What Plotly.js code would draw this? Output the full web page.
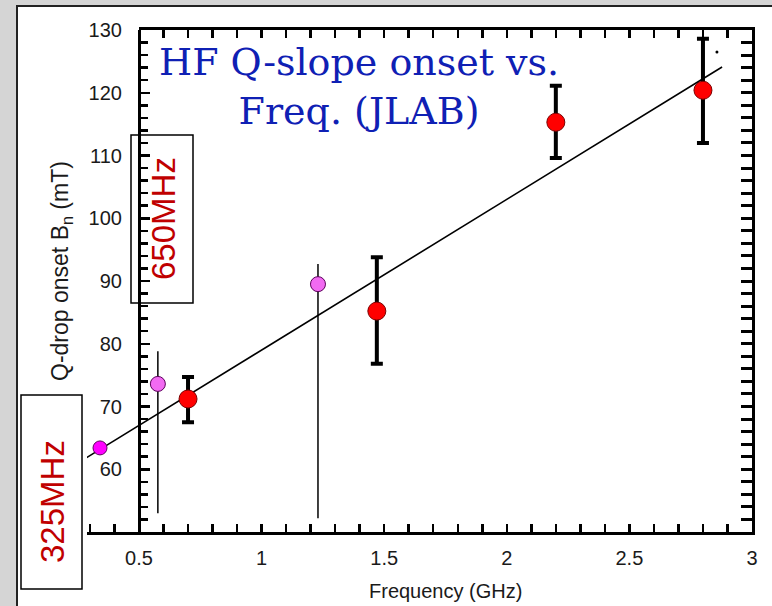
<!DOCTYPE html>
<html>
<head>
<meta charset="utf-8">
<script src="https://cdn.plot.ly/plotly-3.0.1.min.js"></script>
<style>html,body{margin:0;padding:0;background:#d5d5d5;}#chart{width:772px;height:606px;}</style>
</head>
<body>
<div id="chart"></div>
<script>
// ---- data ----
var redFreq   = [0.70, 1.47, 2.20, 2.80];
var redOnset  = [71.2, 85.2, 115.3, 120.4];
var redTop    = [74.7, 93.8, 121.1, 128.6];
var redBottom = [67.5, 76.8, 109.6, 112.0];

var violetFreq   = [0.577, 1.23];
var violetOnset  = [73.6, 89.5];
var violetTop    = [78.8, 92.7];
var violetBottom = [53.0, 52.2];

var magentaFreq  = [0.341];
var magentaOnset = [63.4];

var fitFreq  = [0.272, 2.878];
var fitOnset = [61.5, 124.1];

var strayFreq = [2.857];
var strayOnset = [126.5];

var xTickVals = [0.5, 1, 1.5, 2, 2.5, 3];
var xTickText = ['0.5', '1', '1.5', '2', '2.5', '3'];
var yTickVals = [60, 70, 80, 90, 100, 110, 120, 130];

var xRange = [0.288, 3.0];
var yRange = [50, 130];
var yAxisAt = 0.5;

// ---- layout helpers ----
var W = 772, H = 606, mL = 87, mR = 20, mT = 30, mB = 74;
var pw = W - mL - mR, ph = H - mT - mB;
function px(x) { return (x - mL) / pw; }
function py(y) { return (H - mB - y) / ph; }
var yPos = (yAxisAt - xRange[0]) / (xRange[1] - xRange[0]);

function diff(a, b) { return a.map(function (v, i) { return v - b[i]; }); }

var axisFont = {family: 'Liberation Sans, Arial, sans-serif', size: 20, color: '#1a1a1a'};

var traces = [
  {x: fitFreq, y: fitOnset, mode: 'lines', line: {color: '#000', width: 1.6}, hoverinfo: 'skip', showlegend: false},
  {x: violetFreq, y: violetOnset, mode: 'markers', showlegend: false,
   marker: {size: 15, color: '#f26af2', line: {color: '#5a005a', width: 1}},
   error_y: {type: 'data', symmetric: false, array: diff(violetTop, violetOnset), arrayminus: diff(violetOnset, violetBottom),
             color: '#000', thickness: 1.5, width: 0}},
  {x: redFreq, y: redOnset, mode: 'markers', showlegend: false,
   marker: {size: 18, color: '#ff0000', line: {color: '#7a0000', width: 1}},
   error_y: {type: 'data', symmetric: false, array: diff(redTop, redOnset), arrayminus: diff(redOnset, redBottom),
             color: '#000', thickness: 4, width: 6}},
  {x: magentaFreq, y: magentaOnset, mode: 'markers', showlegend: false,
   marker: {size: 14, color: '#ff00ff', line: {color: '#600060', width: 1}}},
  {x: strayFreq, y: strayOnset, mode: 'markers', showlegend: false, marker: {size: 3, color: '#000'}},
  // helpers so the frame axes are drawn
  {x: [xRange[1]], y: [yRange[0]], xaxis: 'x2', yaxis: 'y', mode: 'markers', marker: {opacity: 0}, hoverinfo: 'skip', showlegend: false},
  {x: [xRange[1]], y: [yRange[0]], xaxis: 'x', yaxis: 'y2', mode: 'markers', marker: {opacity: 0}, hoverinfo: 'skip', showlegend: false}
];

var layout = {
  width: W, height: H,
  margin: {l: mL, r: mR, t: mT, b: mB, pad: 0},
  paper_bgcolor: '#d5d5d5',
  plot_bgcolor: 'rgba(0,0,0,0)',
  showlegend: false,
  xaxis: {
    domain: [0, 1], range: xRange, anchor: 'y', side: 'bottom',
    showline: true, linewidth: 3, linecolor: '#000', zeroline: false, showgrid: false,
    tickmode: 'array', tickvals: xTickVals, ticktext: xTickText,
    ticks: 'inside', ticklen: 8, tickwidth: 2.5, tickcolor: '#000',
    minor: {tickmode: 'linear', tick0: 0, dtick: 0.1, ticks: 'inside', ticklen: 8, tickwidth: 2.5, tickcolor: '#000'},
    ticklabelstandoff: 6, tickfont: axisFont
  },
  xaxis2: {
    domain: [yPos, 1], range: [yAxisAt, xRange[1]], anchor: 'y', side: 'top',
    showline: true, linewidth: 3, linecolor: '#000', zeroline: false, showgrid: false,
    showticklabels: false, tickmode: 'linear', tick0: 0, dtick: 0.1,
    ticks: 'inside', ticklen: 8, tickwidth: 2.5, tickcolor: '#000'
  },
  yaxis: {
    domain: [0, 1], range: yRange, anchor: 'free', position: yPos, side: 'left',
    showline: true, linewidth: 3, linecolor: '#000', zeroline: false, showgrid: false,
    tickmode: 'array', tickvals: yTickVals,
    ticks: 'inside', ticklen: 9, tickwidth: 2.5, tickcolor: '#000',
    minor: {tickmode: 'linear', tick0: 0, dtick: 2, ticks: 'inside', ticklen: 7, tickwidth: 2.5, tickcolor: '#000'},
    ticklabelstandoff: 12, tickfont: axisFont
  },
  yaxis2: {
    range: yRange, overlaying: 'y', anchor: 'x', side: 'right',
    showline: true, linewidth: 3, linecolor: '#000', zeroline: false, showgrid: false,
    showticklabels: false, tickmode: 'linear', tick0: 0, dtick: 2,
    ticks: 'inside', ticklen: 11, tickwidth: 3, tickcolor: '#000'
  },
  shapes: [
    {type: 'rect', xref: 'paper', yref: 'paper', layer: 'below',
     x0: px(17), x1: px(800), y0: py(640), y1: py(6),
     fillcolor: '#ffffff', line: {color: '#222', width: 2}},
    {type: 'rect', xref: 'paper', yref: 'paper', layer: 'above',
     x0: px(131), x1: px(193), y0: py(303), y1: py(135),
     fillcolor: 'rgba(0,0,0,0)', line: {color: '#000', width: 1.5}},
    {type: 'rect', xref: 'paper', yref: 'paper', layer: 'above',
     x0: px(21), x1: px(82), y0: py(589), y1: py(395),
     fillcolor: '#ffffff', line: {color: '#000', width: 1.5}}
  ],
  annotations: [
    {xref: 'paper', yref: 'paper', x: px(359), y: py(38), xanchor: 'center', yanchor: 'top', showarrow: false,
     text: 'HF Q-slope onset vs.<br>Freq. (JLAB)', align: 'center',
     font: {family: 'DejaVu Serif, serif', size: 38, color: '#0f20b4'}},
    {xref: 'x', yref: 'paper', x: 1.75, y: py(591), xanchor: 'center', yanchor: 'middle', showarrow: false,
     text: 'Frequency (GHz)', font: axisFont},
    {xref: 'paper', yref: 'paper', x: px(61), y: py(271), xanchor: 'center', yanchor: 'middle', showarrow: false,
     textangle: -90, text: 'Q-drop onset B<sub>n</sub> (mT)',
     font: {family: 'Liberation Sans, Arial, sans-serif', size: 23, color: '#1a1a1a'}},
    {xref: 'paper', yref: 'paper', x: px(163), y: py(219), xanchor: 'center', yanchor: 'middle', showarrow: false,
     textangle: -90, text: '650MHz', font: {family: 'Liberation Sans, Arial, sans-serif', size: 33, color: '#c00000'}},
    {xref: 'paper', yref: 'paper', x: px(52), y: py(502), xanchor: 'center', yanchor: 'middle', showarrow: false,
     textangle: -90, text: '325MHz', font: {family: 'Liberation Sans, Arial, sans-serif', size: 33, color: '#c00000'}}
  ]
};

Plotly.newPlot('chart', traces, layout, {displayModeBar: false, staticPlot: true});
</script>
</body>
</html>
